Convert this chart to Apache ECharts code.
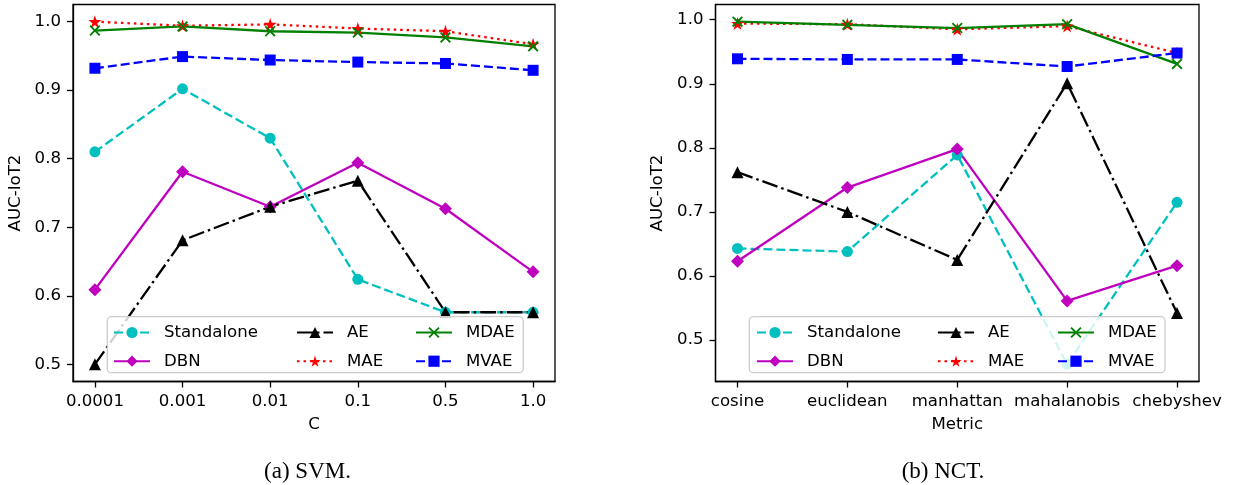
<!DOCTYPE html>
<html>
<head>
<meta charset="utf-8">
<script src="https://cdn.jsdelivr.net/npm/echarts@6/dist/echarts.min.js"></script>
<style>
  html, body { margin: 0; padding: 0; background: #fff; }
  #chart { width: 1240px; height: 485px; }
</style>
</head>
<body>
<div id="chart"></div>
<script>
// (a) SVM, x = C
var svmC = ['0.0001', '0.001', '0.01', '0.1', '0.5', '1.0'];
var svmStandalone = [0.810, 0.902, 0.830, 0.624, 0.576, 0.576];
var svmDBN = [0.609, 0.781, 0.730, 0.794, 0.727, 0.635];
var svmAE = [0.500, 0.681, 0.730, 0.768, 0.576, 0.576];
var svmMAE = [1.000, 0.994, 0.996, 0.990, 0.986, 0.967];
var svmMDAE = [0.987, 0.993, 0.986, 0.984, 0.977, 0.964];
var svmMVAE = [0.932, 0.949, 0.944, 0.941, 0.939, 0.929];

// (b) NCT, x = Metric
var nctMetric = ['cosine', 'euclidean', 'manhattan', 'mahalanobis', 'chebyshev'];
var nctStandalone = [0.643, 0.638, 0.789, 0.462, 0.715];
var nctDBN = [0.623, 0.738, 0.798, 0.561, 0.616];
var nctAE = [0.762, 0.700, 0.625, 0.901, 0.542];
var nctMAE = [0.994, 0.993, 0.985, 0.990, 0.948];
var nctMDAE = [0.997, 0.992, 0.987, 0.993, 0.931];
var nctMVAE = [0.939, 0.938, 0.938, 0.927, 0.948];

var yTicks = [0.5, 0.6, 0.7, 0.8, 0.9, 1.0];

var FONT = 'DejaVu Sans';
var FS = 16.6;

var starPath = 'path://M0,-1 L0.2245,-0.309 L0.951,-0.309 L0.363,0.118 L0.588,0.809 L0,0.382 L-0.588,0.809 L-0.363,0.118 L-0.951,-0.309 L-0.2245,-0.309 Z';
var xPath = 'path://M0.12,0 L0.5,0.38 L0.88,0 L1,0.12 L0.62,0.5 L1,0.88 L0.88,1 L0.5,0.62 L0.12,1 L0,0.88 L0.38,0.5 L0,0.12 Z';

var styles = {
  Standalone: { color: '#00bfbf', dash: [9, 4], symbol: 'circle', size: 11 },
  DBN: { color: '#bf00bf', dash: 'solid', symbol: 'diamond', size: 13 },
  AE: { color: '#000000', dash: [16, 4, 2.5, 4], symbol: 'triangle', size: 12 },
  MAE: { color: '#ff0000', dash: [2.5, 4], symbol: starPath, size: 13 },
  MDAE: { color: '#008000', dash: 'solid', symbol: xPath, size: 11 },
  MVAE: { color: '#0000ff', dash: [9, 4], symbol: 'rect', size: 11 }
};

function pairs(arr) {
  return arr.map(function (v, i) { return [i, v]; });
}

function mkSeries(name, arr, idx) {
  var s = styles[name];
  return {
    name: name,
    type: 'line',
    xAxisIndex: idx,
    yAxisIndex: idx,
    z: 2,
    data: pairs(arr),
    symbol: s.symbol,
    symbolSize: s.size,
    showAllSymbol: true,
    itemStyle: { color: s.color },
    lineStyle: { color: s.color, width: 2.3, type: s.dash },
    emphasis: { disabled: true },
    animation: false
  };
}

function yRange(lists) {
  var all = [].concat.apply([], lists);
  var lo = Math.min.apply(null, all), hi = Math.max.apply(null, all);
  var m = (hi - lo) * 0.05;
  return [lo - m, hi + m];
}

function mkX(idx, cats, name) {
  var ticks = cats.map(function (c, i) { return i; });
  var m = (cats.length - 1) * 0.05;
  return {
    type: 'value',
    gridIndex: idx,
    min: -m,
    max: cats.length - 1 + m,
    name: name,
    nameLocation: 'middle',
    nameGap: 35,
    nameTextStyle: { fontFamily: FONT, fontSize: FS, color: '#000' },
    axisLine: { show: true, onZero: false, lineStyle: { color: '#000', width: 1.3 } },
    axisTick: { show: true, length: 6, inside: false, customValues: ticks, lineStyle: { color: '#000', width: 1.3 } },
    axisLabel: {
      customValues: ticks,
      margin: 12,
      hideOverlap: false,
      showMinLabel: true,
      showMaxLabel: true,
      fontFamily: FONT, fontSize: FS, color: '#000',
      formatter: function (v) { return cats[Math.round(v)]; }
    },
    splitLine: { show: false }
  };
}

function mkY(idx, range) {
  return {
    type: 'value',
    gridIndex: idx,
    min: range[0],
    max: range[1],
    name: 'AUC-IoT2',
    nameLocation: 'middle',
    nameGap: 49,
    nameTextStyle: { fontFamily: FONT, fontSize: FS, color: '#000' },
    axisLine: { show: true, onZero: false, lineStyle: { color: '#000', width: 1.3 } },
    axisTick: { show: true, length: 6, inside: false, customValues: yTicks, lineStyle: { color: '#000', width: 1.3 } },
    axisLabel: {
      customValues: yTicks,
      margin: 12,
      fontFamily: FONT, fontSize: FS, color: '#000',
      formatter: function (v) { return v.toFixed(1); }
    },
    splitLine: { show: false }
  };
}

var legendCols = [['Standalone', 'DBN'], ['AE', 'MAE'], ['MDAE', 'MVAE']];
var legendLeft = [[113, 296, 415], [756, 937, 1057]];

function mkLegends() {
  var out = [];
  legendLeft.forEach(function (row) {
    row.forEach(function (x, c) {
      out.push({
        orient: 'vertical',
        z: 120,
        left: x,
        top: 324,
        padding: 0,
        itemWidth: 36,
        itemHeight: 14,
        itemGap: 11.7,
        selectedMode: false,
        data: legendCols[c],
        textStyle: { fontFamily: FONT, fontSize: FS, color: '#000', lineHeight: 14, padding: [0, 0, 0, 9] }
      });
    });
  });
  return out;
}

var chart = echarts.init(document.getElementById('chart'), null, { renderer: 'canvas' });

var names = ['Standalone', 'DBN', 'AE', 'MAE', 'MDAE', 'MVAE'];
var svmData = [svmStandalone, svmDBN, svmAE, svmMAE, svmMDAE, svmMVAE];
var nctData = [nctStandalone, nctDBN, nctAE, nctMAE, nctMDAE, nctMVAE];

var series = [];
names.forEach(function (n, i) { series.push(mkSeries(n, svmData[i], 0)); });
names.forEach(function (n, i) { series.push(mkSeries(n, nctData[i], 1)); });

var option = {
  backgroundColor: '#fff',
  animation: false,
  grid: [
    { left: 73, top: 4.5, width: 482, height: 377, show: true, borderColor: '#000', borderWidth: 1.3, backgroundColor: 'transparent' },
    { left: 715.5, top: 4.5, width: 483.5, height: 377, show: true, borderColor: '#000', borderWidth: 1.3, backgroundColor: 'transparent' }
  ],
  xAxis: [mkX(0, svmC, 'C'), mkX(1, nctMetric, 'Metric')],
  yAxis: [mkY(0, yRange(svmData)), mkY(1, yRange(nctData))],
  legend: mkLegends(),
  series: series,
  graphic: {
    z: 100,
    elements: [
      { type: 'rect', z: 100, shape: { x: 107.3, y: 316.7, width: 416, height: 56, r: 4 },
        style: { fill: 'rgba(255,255,255,0.82)', stroke: '#cccccc', lineWidth: 1.3 } },
      { type: 'rect', z: 100, shape: { x: 749.3, y: 316.7, width: 415.7, height: 56, r: 4 },
        style: { fill: 'rgba(255,255,255,0.82)', stroke: '#cccccc', lineWidth: 1.3 } },
      { type: 'text', z: 100, x: 307.5, y: 472, style: { text: '(a) SVM.', font: '23px "Liberation Serif"', fill: '#000', align: 'center', verticalAlign: 'middle' } },
      { type: 'text', z: 100, x: 943, y: 472, style: { text: '(b) NCT.', font: '23px "Liberation Serif"', fill: '#000', align: 'center', verticalAlign: 'middle' } }
    ]
  }
};

chart.setOption(option);
</script>
</body>
</html>
